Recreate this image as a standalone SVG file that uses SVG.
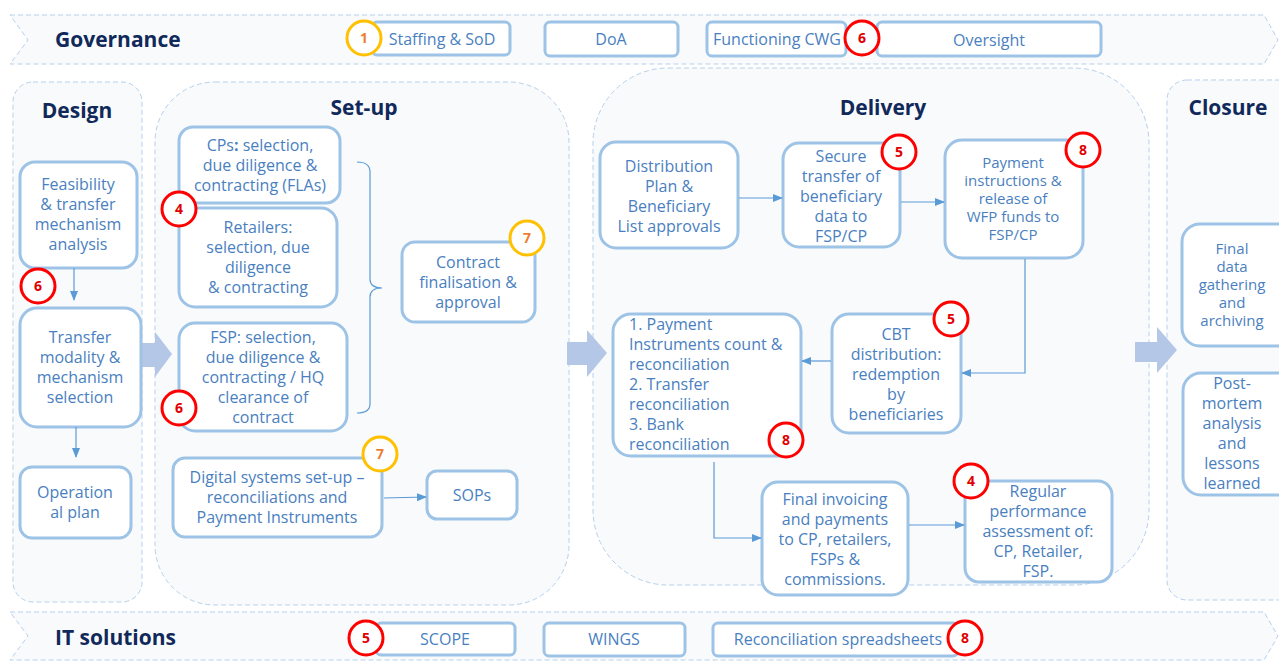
<svg xmlns="http://www.w3.org/2000/svg" width="1279" height="662" viewBox="0 0 1279 662">
  <style>
    .panel { fill: #f9fafc; stroke: #b5d0ec; stroke-width: 1; stroke-dasharray: 5 3; }
    .bar { fill: #f9fafc; stroke: #b5d0ec; stroke-width: 1; stroke-dasharray: 5 3; }
    .box { fill: #ffffff; stroke: #9dc3e6; stroke-width: 3; }
    .t { font-family: "Open Sans", "Noto Sans", sans-serif; font-size: 16px; fill: #4a7fbf; text-anchor: middle; }
    .ts { font-family: "Open Sans", "Noto Sans", sans-serif; font-size: 15px; fill: #4a7fbf; text-anchor: middle; }
    .tl { font-family: "Open Sans", "Noto Sans", sans-serif; font-size: 16px; fill: #4a7fbf; text-anchor: start; }
    .title { font-family: "Open Sans", "Noto Sans", sans-serif; font-size: 21px; font-weight: bold; fill: #10295a; text-anchor: middle; }
    .bartitle { font-family: "Open Sans", "Noto Sans", sans-serif; font-size: 21px; font-weight: bold; fill: #10295a; text-anchor: start; }
    .red { fill: #ffffff; stroke: #ff0000; stroke-width: 3; }
    .yel { fill: #ffffff; stroke: #ffc000; stroke-width: 3; }
    .nr { font-family: "Open Sans", "Noto Sans", sans-serif; font-size: 14px; font-weight: bold; fill: #e00000; text-anchor: middle; }
    .ny { font-family: "Open Sans", "Noto Sans", sans-serif; font-size: 14px; font-weight: bold; fill: #ed7d31; text-anchor: middle; }
    .conn { fill: none; stroke: #5b9bd5; stroke-width: 1.2; }
    .big { fill: #b4c7e7; }
  </style>
  <defs>
    <marker id="arr" markerWidth="10" markerHeight="10" refX="9" refY="5" orient="auto" markerUnits="userSpaceOnUse">
      <path d="M0,1 L10,5 L0,9 Z" fill="#5b9bd5"/>
    </marker>
  </defs>

  <rect width="1279" height="662" fill="#ffffff"/>

  <!-- Phase panels -->
  <g id="panels">
    <rect class="panel" x="13" y="82" width="129" height="520" rx="20"/>
    <rect class="panel" x="155" y="82" width="414" height="523" rx="60"/>
    <rect class="panel" x="593" y="68" width="556" height="517" rx="75"/>
    <rect class="panel" x="1167" y="80" width="140" height="520" rx="20"/>
    <text class="title" x="77" y="118">Design</text>
    <text class="title" x="364" y="115">Set-up</text>
    <text class="title" x="883" y="115">Delivery</text>
    <text class="title" x="1228" y="115">Closure</text>
  </g>

  <!-- Phase transition arrows -->
  <g id="phase-arrows">
    <path class="big" d="M142,343 L155,343 L155,332 L172,354 L155,377 L155,367 L142,367 Z"/>
    <path class="big" d="M567,342 L587,342 L587,330 L607,353 L587,377 L587,365 L567,365 Z"/>
    <path class="big" d="M1135,342 L1157,342 L1157,327 L1177,350 L1157,373 L1157,362 L1135,362 Z"/>
  </g>

  <!-- Governance bar -->
  <g id="governance">
    <path class="bar" d="M10,15 L1264,15 L1278,40 L1264,64 L10,64 L28,40 Z"/>
    <text class="bartitle" x="55" y="47">Governance</text>
    <rect class="box" x="372" y="22" width="138" height="33" rx="5"/>
    <text class="t" x="442" y="45">Staffing &amp; SoD</text>
    <rect class="box" x="545" y="22" width="133" height="34" rx="5"/>
    <text class="t" x="611" y="45">DoA</text>
    <rect class="box" x="707" y="22" width="139" height="34" rx="5"/>
    <text class="t" x="777" y="45">Functioning CWG</text>
    <rect class="box" x="877" y="22" width="224" height="34" rx="5"/>
    <text class="t" x="989" y="46">Oversight</text>
    <circle class="yel" cx="364" cy="38" r="17"/>
    <text class="ny" x="364" y="43">1</text>
    <circle class="red" cx="862" cy="38" r="17"/>
    <text class="nr" x="862" y="43">6</text>
  </g>

  <!-- Design -->
  <g id="feasibility">
    <rect class="box" x="20" y="162" width="117" height="106" rx="15"/>
    <text class="t" x="78" y="190">Feasibility</text>
    <text class="t" x="78" y="210">&amp; transfer</text>
    <text class="t" x="78" y="230">mechanism</text>
    <text class="t" x="78" y="250">analysis</text>
  </g>
  <g id="transfer-selection">
    <rect class="box" x="20" y="308" width="121" height="119" rx="17"/>
    <text class="t" x="80" y="343">Transfer</text>
    <text class="t" x="80" y="363">modality &amp;</text>
    <text class="t" x="80" y="383">mechanism</text>
    <text class="t" x="80" y="403">selection</text>
    <circle class="red" cx="38" cy="286" r="17"/>
    <text class="nr" x="38" y="291">6</text>
  </g>
  <g id="operational-plan">
    <rect class="box" x="20" y="467" width="111" height="71" rx="12"/>
    <text class="t" x="75" y="498">Operation</text>
    <text class="t" x="75" y="518">al plan</text>
  </g>

  <!-- Set-up -->
  <g id="cps">
    <rect class="box" x="179" y="127" width="161" height="76" rx="14"/>
    <text class="t" x="260" y="151">CPs<tspan font-weight="bold">:</tspan> selection,</text>
    <text class="t" x="260" y="171">due diligence &amp;</text>
    <text class="t" x="260" y="191">contracting (FLAs)</text>
  </g>
  <g id="retailers">
    <rect class="box" x="179" y="208" width="158" height="99" rx="16"/>
    <text class="t" x="258" y="233">Retailers:</text>
    <text class="t" x="258" y="253">selection, due</text>
    <text class="t" x="258" y="273">diligence</text>
    <text class="t" x="258" y="293">&amp; contracting</text>
    <circle class="red" cx="179" cy="209" r="17"/>
    <text class="nr" x="179" y="214">4</text>
  </g>
  <g id="fsp">
    <rect class="box" x="179" y="323" width="168" height="108" rx="16"/>
    <text class="t" x="263" y="343">FSP: selection,</text>
    <text class="t" x="263" y="363">due diligence &amp;</text>
    <text class="t" x="263" y="383">contracting / HQ</text>
    <text class="t" x="263" y="403">clearance of</text>
    <text class="t" x="263" y="423">contract</text>
    <circle class="red" cx="179" cy="408" r="17"/>
    <text class="nr" x="179" y="413">6</text>
  </g>
  <g id="contract">
    <rect class="box" x="402" y="242" width="133" height="80" rx="13"/>
    <text class="t" x="468" y="268">Contract</text>
    <text class="t" x="468" y="288">finalisation &amp;</text>
    <text class="t" x="468" y="308">approval</text>
    <circle class="yel" cx="527" cy="238" r="17"/>
    <text class="ny" x="527" y="243">7</text>
  </g>
  <g id="digital-systems">
    <rect class="box" x="173" y="458" width="209" height="79" rx="12"/>
    <text class="t" x="277" y="483">Digital systems set-up –</text>
    <text class="t" x="277" y="503">reconciliations and</text>
    <text class="t" x="277" y="523">Payment Instruments</text>
    <circle class="yel" cx="380" cy="454" r="17"/>
    <text class="ny" x="380" y="459">7</text>
  </g>
  <g id="sops">
    <rect class="box" x="427" y="471" width="90" height="48" rx="10"/>
    <text class="t" x="472" y="501">SOPs</text>
  </g>

  <!-- Delivery -->
  <g id="distribution-plan">
    <rect class="box" x="600" y="142" width="138" height="106" rx="16"/>
    <text class="t" x="669" y="172">Distribution</text>
    <text class="t" x="669" y="192">Plan &amp;</text>
    <text class="t" x="669" y="212">Beneficiary</text>
    <text class="t" x="669" y="232">List approvals</text>
  </g>
  <g id="secure-transfer">
    <rect class="box" x="783" y="143" width="117" height="104" rx="16"/>
    <text class="t" x="841" y="162">Secure</text>
    <text class="t" x="841" y="182">transfer of</text>
    <text class="t" x="841" y="202">beneficiary</text>
    <text class="t" x="841" y="222">data to</text>
    <text class="t" x="841" y="242">FSP/CP</text>
    <circle class="red" cx="899" cy="152" r="17"/>
    <text class="nr" x="899" y="157">5</text>
  </g>
  <g id="payment-instructions">
    <rect class="box" x="945" y="140" width="138" height="118" rx="17"/>
    <text class="ts" x="1013" y="168">Payment</text>
    <text class="ts" x="1013" y="186">instructions &amp;</text>
    <text class="ts" x="1013" y="204">release of</text>
    <text class="ts" x="1013" y="222">WFP funds to</text>
    <text class="ts" x="1013" y="240">FSP/CP</text>
    <circle class="red" cx="1083" cy="150" r="17"/>
    <text class="nr" x="1083" y="155">8</text>
  </g>
  <g id="cbt-distribution">
    <rect class="box" x="832" y="314" width="129" height="119" rx="17"/>
    <text class="t" x="896" y="340">CBT</text>
    <text class="t" x="896" y="360">distribution:</text>
    <text class="t" x="896" y="380">redemption</text>
    <text class="t" x="896" y="400">by</text>
    <text class="t" x="896" y="420">beneficiaries</text>
    <circle class="red" cx="951" cy="319" r="17"/>
    <text class="nr" x="951" y="324">5</text>
  </g>
  <g id="reconciliation">
    <rect class="box" x="613" y="314" width="188" height="142" rx="18"/>
    <text class="tl" x="629" y="330">1. Payment</text>
    <text class="tl" x="629" y="350">Instruments count &amp;</text>
    <text class="tl" x="629" y="370">reconciliation</text>
    <text class="tl" x="629" y="390">2. Transfer</text>
    <text class="tl" x="629" y="410">reconciliation</text>
    <text class="tl" x="629" y="430">3. Bank</text>
    <text class="tl" x="629" y="450">reconciliation</text>
    <circle class="red" cx="786" cy="440" r="17"/>
    <text class="nr" x="786" y="445">8</text>
  </g>
  <g id="final-invoicing">
    <rect class="box" x="762" y="482" width="146" height="113" rx="16"/>
    <text class="t" x="835" y="505">Final invoicing</text>
    <text class="t" x="835" y="525">and payments</text>
    <text class="t" x="835" y="545">to CP, retailers,</text>
    <text class="t" x="835" y="565">FSPs &amp;</text>
    <text class="t" x="835" y="585">commissions.</text>
  </g>
  <g id="performance-assessment">
    <rect class="box" x="965" y="481" width="147" height="101" rx="14"/>
    <text class="t" x="1038" y="497">Regular</text>
    <text class="t" x="1038" y="517">performance</text>
    <text class="t" x="1038" y="537">assessment of:</text>
    <text class="t" x="1038" y="557">CP, Retailer,</text>
    <text class="t" x="1038" y="577">FSP.</text>
    <circle class="red" cx="971" cy="481" r="17"/>
    <text class="nr" x="971" y="486">4</text>
  </g>

  <!-- Closure -->
  <g id="final-data">
    <rect class="box" x="1182" y="224" width="115" height="122" rx="18"/>
    <text class="ts" x="1232" y="254">Final</text>
    <text class="ts" x="1232" y="272">data</text>
    <text class="ts" x="1232" y="290">gathering</text>
    <text class="ts" x="1232" y="308">and</text>
    <text class="ts" x="1232" y="326">archiving</text>
  </g>
  <g id="post-mortem">
    <rect class="box" x="1183" y="373" width="115" height="122" rx="18"/>
    <text class="t" x="1232" y="389">Post-</text>
    <text class="t" x="1232" y="409">mortem</text>
    <text class="t" x="1232" y="429">analysis</text>
    <text class="t" x="1232" y="449">and</text>
    <text class="t" x="1232" y="469">lessons</text>
    <text class="t" x="1232" y="489">learned</text>
  </g>

  <!-- IT solutions bar -->
  <g id="it-solutions">
    <path class="bar" d="M10,612 L1264,612 L1278,636 L1264,660 L10,660 L28,636 Z"/>
    <text class="bartitle" x="55" y="645">IT solutions</text>
    <rect class="box" x="376" y="623" width="139" height="32" rx="5"/>
    <text class="t" x="445" y="645">SCOPE</text>
    <rect class="box" x="544" y="623" width="141" height="33" rx="5"/>
    <text class="t" x="614" y="645">WINGS</text>
    <rect class="box" x="713" y="623" width="245" height="33" rx="5"/>
    <text class="t" x="838" y="645" font-size="16.5">Reconciliation spreadsheets</text>
    <circle class="red" cx="366" cy="638" r="17"/>
    <text class="nr" x="366" y="643">5</text>
    <circle class="red" cx="965" cy="638" r="17"/>
    <text class="nr" x="965" y="643">8</text>
  </g>

  <!-- Connectors -->
  <g id="connectors">
    <path class="conn" d="M74,268 L74,300" marker-end="url(#arr)"/>
    <path class="conn" d="M76,427 L76,457" marker-end="url(#arr)"/>
    <path class="conn" d="M357,162 Q370,162 370,172 L370,279 Q370,288 382,288 Q370,288 370,297 L370,404 Q370,413 357,413"/>
    <path class="conn" d="M384,498 L426,497" marker-end="url(#arr)"/>
    <path class="conn" d="M739,198 L782,198" marker-end="url(#arr)"/>
    <path class="conn" d="M901,202 L944,202" marker-end="url(#arr)"/>
    <path class="conn" d="M1025,259 L1025,373 L962,373" marker-end="url(#arr)"/>
    <path class="conn" d="M831,361 L802,361" marker-end="url(#arr)"/>
    <path class="conn" d="M714,462 L714,538 L761,538" marker-end="url(#arr)"/>
    <path class="conn" d="M909,525 L964,525" marker-end="url(#arr)"/>
  </g>
</svg>
